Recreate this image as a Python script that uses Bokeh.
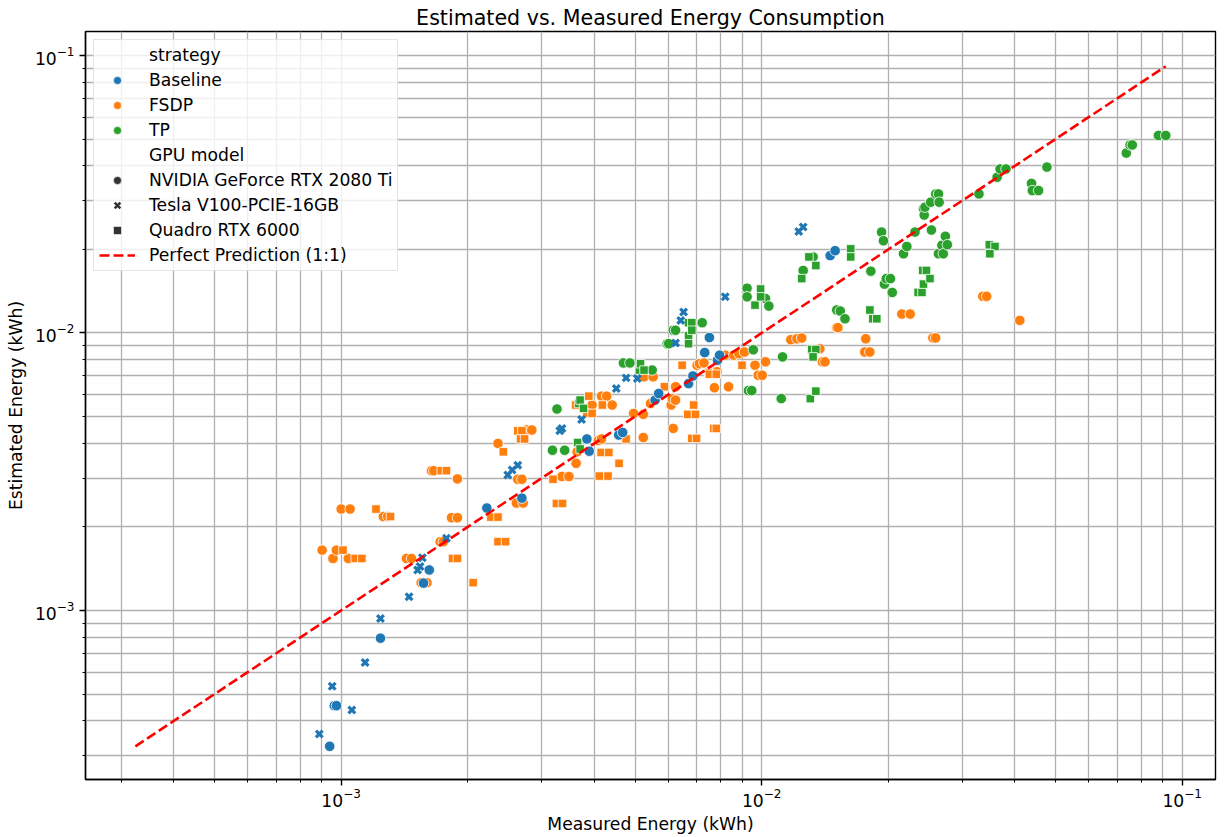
import numpy as np
from bokeh.plotting import figure
from bokeh.models import Range1d, FixedTicker, LogTickFormatter, Legend, LegendItem
from bokeh.embed import file_html
from bokeh.resources import INLINE

# ---------------- data (kWh) ----------------
strategies = ["Baseline", "FSDP", "TP"]
gpu_models = ["NVIDIA GeForce RTX 2080 Ti", "Tesla V100-PCIE-16GB", "Quadro RTX 6000"]
strategy_colors = ["#1f77b4", "#ff7f0e", "#2ca02c"]

baseline_2080ti_measured = [0.000939, 0.000963, 0.000975, 0.00124, 0.00157, 0.00162, 0.00222, 0.00269, 0.00384, 0.00389,
                            0.00457, 0.00467, 0.00558, 0.00569, 0.0067, 0.00686, 0.00732, 0.00751, 0.00785, 0.00794,
                            0.01455, 0.01495]
baseline_2080ti_estimated = [0.000324, 0.000454, 0.000454, 0.000795, 0.001255, 0.0014, 0.00234, 0.00254, 0.00415, 0.00375,
                             0.00429, 0.00438, 0.00573, 0.00605, 0.00657, 0.007, 0.0085, 0.00963, 0.00798, 0.00832,
                             0.019, 0.0198]

baseline_v100_measured = [0.000887, 0.000952, 0.00106, 0.00114, 0.00124, 0.00145, 0.00152, 0.00154, 0.00156, 0.00178,
                          0.00249, 0.00255, 0.00263, 0.00331, 0.00335, 0.00373, 0.00451, 0.00476, 0.00506, 0.00624,
                          0.00642, 0.00652, 0.00819, 0.01225, 0.01255]
baseline_v100_estimated = [0.000359, 0.000533, 0.000438, 0.00065, 0.000936, 0.00112, 0.0014, 0.00144, 0.00155, 0.00182,
                           0.00308, 0.00321, 0.00334, 0.00444, 0.00453, 0.00488, 0.00631, 0.00689, 0.00685, 0.00921,
                           0.0111, 0.0119, 0.0135, 0.0232, 0.0241]

fsdp_2080ti_measured = [0.000901, 0.000956, 0.000974, 0.001, 0.00105, 0.00104, 0.00126, 0.00129, 0.00143, 0.00147,
                        0.00155, 0.0016, 0.00172, 0.00175, 0.00183, 0.00189, 0.00164, 0.00166, 0.00189, 0.00236,
                        0.00261, 0.00271, 0.00263, 0.00269, 0.00276, 0.00284, 0.00335, 0.00348, 0.00362, 0.00364,
                        0.00395, 0.00409, 0.00416, 0.00416, 0.00428, 0.00441, 0.00496, 0.00523, 0.00523, 0.00525,
                        0.00552, 0.00544, 0.00609, 0.00613, 0.00624, 0.00616, 0.00624, 0.00702, 0.00711, 0.00729,
                        0.00772, 0.00834, 0.00776, 0.00783, 0.00819, 0.00858, 0.00882, 0.0091, 0.00964, 0.00981,
                        0.01003, 0.01021, 0.01173, 0.01213, 0.01245, 0.01375, 0.01394, 0.01414, 0.01508, 0.01518,
                        0.01758, 0.01808, 0.01768, 0.02154, 0.02255, 0.02553, 0.02593, 0.03357, 0.03427, 0.04109]
fsdp_2080ti_estimated = [0.00165, 0.00154, 0.00165, 0.00232, 0.00232, 0.00154, 0.00218, 0.00218, 0.00154, 0.00154,
                         0.00126, 0.00126, 0.00177, 0.00177, 0.00216, 0.00216, 0.00319, 0.00319, 0.00298, 0.004,
                         0.00244, 0.00244, 0.00297, 0.00297, 0.00447, 0.00447, 0.00304, 0.00304, 0.00339, 0.00373,
                         0.0055, 0.0041, 0.00415, 0.00592, 0.00592, 0.0055, 0.00513, 0.0042, 0.00509, 0.00695,
                         0.00695, 0.00557, 0.0055, 0.0058, 0.00573, 0.00453, 0.0064, 0.00765, 0.00775, 0.0078,
                         0.00635, 0.0064, 0.00725, 0.00725, 0.00832, 0.00832, 0.00842, 0.00854, 0.00765, 0.00704,
                         0.00704, 0.00787, 0.00946, 0.00953, 0.00959, 0.00877, 0.00787, 0.00787, 0.01045, 0.01045,
                         0.00854, 0.00854, 0.00953, 0.0117, 0.0117, 0.0096, 0.0096, 0.01355, 0.01355, 0.0111]

fsdp_quadro_measured = [0.00101, 0.00108, 0.00112, 0.00121, 0.00131, 0.00173, 0.00178, 0.00184, 0.00189, 0.00206,
                        0.00227, 0.00236, 0.00236, 0.00246, 0.00243, 0.00263, 0.00269, 0.00267, 0.00273, 0.00319,
                        0.00325, 0.00336, 0.00361, 0.00384, 0.00395, 0.00388, 0.00411, 0.00431, 0.00415, 0.00433,
                        0.00418, 0.00458, 0.00476, 0.00587, 0.00647, 0.00667, 0.00696, 0.00689, 0.00682, 0.007,
                        0.00748, 0.00751, 0.0078, 0.00769, 0.0078, 0.00898]
fsdp_quadro_estimated = [0.00165, 0.00154, 0.00154, 0.00232, 0.00218, 0.00319, 0.00319, 0.00154, 0.00154, 0.00126,
                         0.00217, 0.00217, 0.00177, 0.00177, 0.00373, 0.00444, 0.00444, 0.00415, 0.00415, 0.00297,
                         0.00243, 0.00243, 0.0055, 0.00513, 0.00513, 0.00592, 0.00305, 0.00305, 0.00371, 0.00371,
                         0.0055, 0.00339, 0.00415, 0.0064, 0.00765, 0.00509, 0.00509, 0.0055, 0.00417, 0.00417,
                         0.0072, 0.0071, 0.0071, 0.00453, 0.00453, 0.00765]

tp_2080ti_measured = [0.00318, 0.0034, 0.00326, 0.00469, 0.00486, 0.00549, 0.00596, 0.00601, 0.00616, 0.00624,
                      0.00722, 0.00923, 0.00923, 0.01021, 0.0104, 0.0093, 0.00947, 0.00955, 0.01113, 0.01121,
                      0.01255, 0.01325, 0.01508, 0.01538, 0.01578, 0.01818, 0.01928, 0.01948, 0.01958, 0.01978,
                      0.02024, 0.02044, 0.02174, 0.02214, 0.02315, 0.02425, 0.02435, 0.02445, 0.02523, 0.02533,
                      0.02593, 0.02633, 0.02643, 0.02633, 0.02683, 0.02703, 0.02734, 0.02764, 0.03286, 0.03629,
                      0.03689, 0.0381, 0.04382, 0.04402, 0.04554, 0.04767, 0.07364, 0.07517, 0.07609, 0.08782,
                      0.09139]
tp_2080ti_estimated = [0.00378, 0.00378, 0.00532, 0.0078, 0.0078, 0.00735, 0.00915, 0.00915, 0.01023, 0.01023,
                       0.01089, 0.0145, 0.0135, 0.0133, 0.0125, 0.0062, 0.0062, 0.0087, 0.0058, 0.0082,
                       0.0168, 0.0188, 0.0121, 0.012, 0.01125, 0.0167, 0.0231, 0.0215, 0.015, 0.0157,
                       0.0157, 0.014, 0.0193, 0.0205, 0.0231, 0.0281, 0.0266, 0.0284, 0.0296, 0.0235,
                       0.0317, 0.0317, 0.0296, 0.0193, 0.0207, 0.0193, 0.0223, 0.0208, 0.0317, 0.0364,
                       0.039, 0.039, 0.0346, 0.0326, 0.0326, 0.0396, 0.0445, 0.0476, 0.0476, 0.0515,
                       0.0515]

tp_quadro_measured = [0.00365, 0.0037, 0.00367, 0.0037, 0.00377, 0.00512, 0.00515, 0.00525, 0.0067, 0.00682,
                      0.0067, 0.00682, 0.0067, 0.00964, 0.00994, 0.00994, 0.01245, 0.01295, 0.01345, 0.01305,
                      0.01345, 0.01315, 0.01345, 0.01325, 0.01628, 0.01628, 0.01808, 0.01838, 0.01878, 0.02355,
                      0.02405, 0.02415, 0.02465, 0.02425, 0.02513, 0.03478, 0.03588, 0.03488]
tp_quadro_estimated = [0.00403, 0.00382, 0.00557, 0.00573, 0.00535, 0.00735, 0.00775, 0.00735, 0.01089, 0.01089,
                       0.00978, 0.01023, 0.00915, 0.0126, 0.0144, 0.0135, 0.0157, 0.0188, 0.0175, 0.0058,
                       0.00617, 0.00872, 0.00872, 0.0082, 0.0201, 0.0188, 0.0121, 0.01125, 0.01125, 0.014,
                       0.014, 0.0168, 0.0168, 0.015, 0.0157, 0.0208, 0.0205, 0.0193]

x_ticks = [1e-3, 1e-2, 1e-1]
y_ticks = [1e-3, 1e-2, 1e-1]

# ---------------- figure ----------------
FONT = "DejaVu Sans"
p = figure(width=1225, height=837, x_axis_type="log", y_axis_type="log",
           x_range=Range1d(2.466e-4, 0.1200), y_range=Range1d(2.46e-4, 0.1220),
           output_backend="svg", toolbar_location=None,
           min_border_left=85, min_border_right=10, min_border_top=31, min_border_bottom=58,
           title="Estimated vs. Measured Energy Consumption")
p.background_fill_color = "white"
p.border_fill_color = "white"
p.outline_line_color = "black"
p.outline_line_width = 1.4
p.outline_line_alpha = 1.0

p.title.text_font = FONT
p.title.text_font_size = "20.6px"
p.title.text_font_style = "normal"
p.title.text_color = "black"
p.title.align = "center"
p.title.vertical_align = "top"
p.title.standoff = 0

minor = [m * 10.0 ** e for e in range(-4, 0) for m in range(2, 10)]
for ax, ticks, label in ((p.xaxis[0], x_ticks, "Measured Energy (kWh)"),
                         (p.yaxis[0], y_ticks, "Estimated Energy (kWh)")):
    ax.ticker = FixedTicker(ticks=ticks, minor_ticks=minor)
    ax.formatter = LogTickFormatter()
    ax.axis_label = label
    ax.axis_label_text_font = FONT
    ax.axis_label_text_font_size = "17.2px"
    ax.axis_label_text_font_style = "normal"
    ax.axis_label_text_color = "black"
    ax.major_label_text_font = FONT
    ax.major_label_text_font_size = "17.2px"
    ax.major_label_text_color = "black"
    ax.axis_line_color = "black"
    ax.axis_line_width = 1.4
    ax.major_tick_line_color = "black"
    ax.minor_tick_line_color = "black"
    ax.major_tick_line_width = 1.4
    ax.minor_tick_line_width = 1.0
    ax.major_tick_out = 6
    ax.major_tick_in = 0
    ax.minor_tick_out = 3
    ax.minor_tick_in = 0

p.xaxis[0].major_label_standoff = 2
p.xaxis[0].axis_label_standoff = 4
p.yaxis[0].major_label_standoff = 5
p.yaxis[0].axis_label_standoff = 6

for g in (p.xgrid[0], p.ygrid[0]):
    g.grid_line_color = "#b0b0b0"
    g.grid_line_width = 1.3
    g.minor_grid_line_color = "#b0b0b0"
    g.minor_grid_line_width = 1.3

# ---------------- scatter ----------------
def draw(xs, ys, marker, color):
    if marker == "x":
        return p.scatter(xs, ys, marker="x", size=9.5, line_color=color, line_width=3.2)
    size = 10.5 if marker == "circle" else 8.5
    return p.scatter(xs, ys, marker=marker, size=size, fill_color=color, fill_alpha=1.0,
                     line_color="white", line_width=0.8)

draw(fsdp_2080ti_measured, fsdp_2080ti_estimated, "circle", strategy_colors[1])
draw(fsdp_quadro_measured, fsdp_quadro_estimated, "square", strategy_colors[1])
draw(tp_2080ti_measured, tp_2080ti_estimated, "circle", strategy_colors[2])
draw(tp_quadro_measured, tp_quadro_estimated, "square", strategy_colors[2])
draw(baseline_2080ti_measured, baseline_2080ti_estimated, "circle", strategy_colors[0])
draw(baseline_v100_measured, baseline_v100_estimated, "x", strategy_colors[0])

all_vals = np.concatenate([baseline_2080ti_measured, baseline_2080ti_estimated,
                           baseline_v100_measured, baseline_v100_estimated,
                           fsdp_2080ti_measured, fsdp_2080ti_estimated,
                           fsdp_quadro_measured, fsdp_quadro_estimated,
                           tp_2080ti_measured, tp_2080ti_estimated,
                           tp_quadro_measured, tp_quadro_estimated])
lo, hi = float(all_vals.min()), float(all_vals.max())
line_r = p.line([lo, hi], [lo, hi], line_color="red", line_width=2.6, line_dash="10 4")

# ---------------- legend ----------------
# legend-only renderers: a single point far outside the visible range
def dummy(marker, color, visible=True):
    a = 1.0 if visible else 0.0
    if marker == "x":
        return p.scatter(x=[1e-9], y=[1e-9], marker="x", size=8, line_color=color,
                         line_width=2.6, line_alpha=a)
    return p.scatter(x=[1e-9], y=[1e-9], marker=marker, size=10, fill_color=color,
                     fill_alpha=a, line_color="white", line_width=0.6, line_alpha=a)

items = [LegendItem(label="strategy", renderers=[dummy("circle", "white", False)])]
for s, c in zip(strategies, strategy_colors):
    items.append(LegendItem(label=s, renderers=[dummy("circle", c)]))
items.append(LegendItem(label="GPU model", renderers=[dummy("circle", "white", False)]))
for gname, mk in zip(gpu_models, ["circle", "x", "square"]):
    items.append(LegendItem(label=gname, renderers=[dummy(mk, "#333333")]))
items.append(LegendItem(label="Perfect Prediction (1:1)", renderers=[line_r]))

legend = Legend(items=items, location="top_left")
legend.margin = 8
legend.padding = 5
legend.spacing = 5
legend.glyph_width = 36
legend.glyph_height = 20
legend.label_height = 20
legend.label_standoff = 14
legend.label_text_font = FONT
legend.label_text_font_size = "17.2px"
legend.label_text_color = "black"
legend.border_line_color = "#cccccc"
legend.border_line_width = 1.2
legend.background_fill_color = "white"
legend.background_fill_alpha = 0.8
p.add_layout(legend)

open("out.html", "w").write(file_html(p, INLINE))
